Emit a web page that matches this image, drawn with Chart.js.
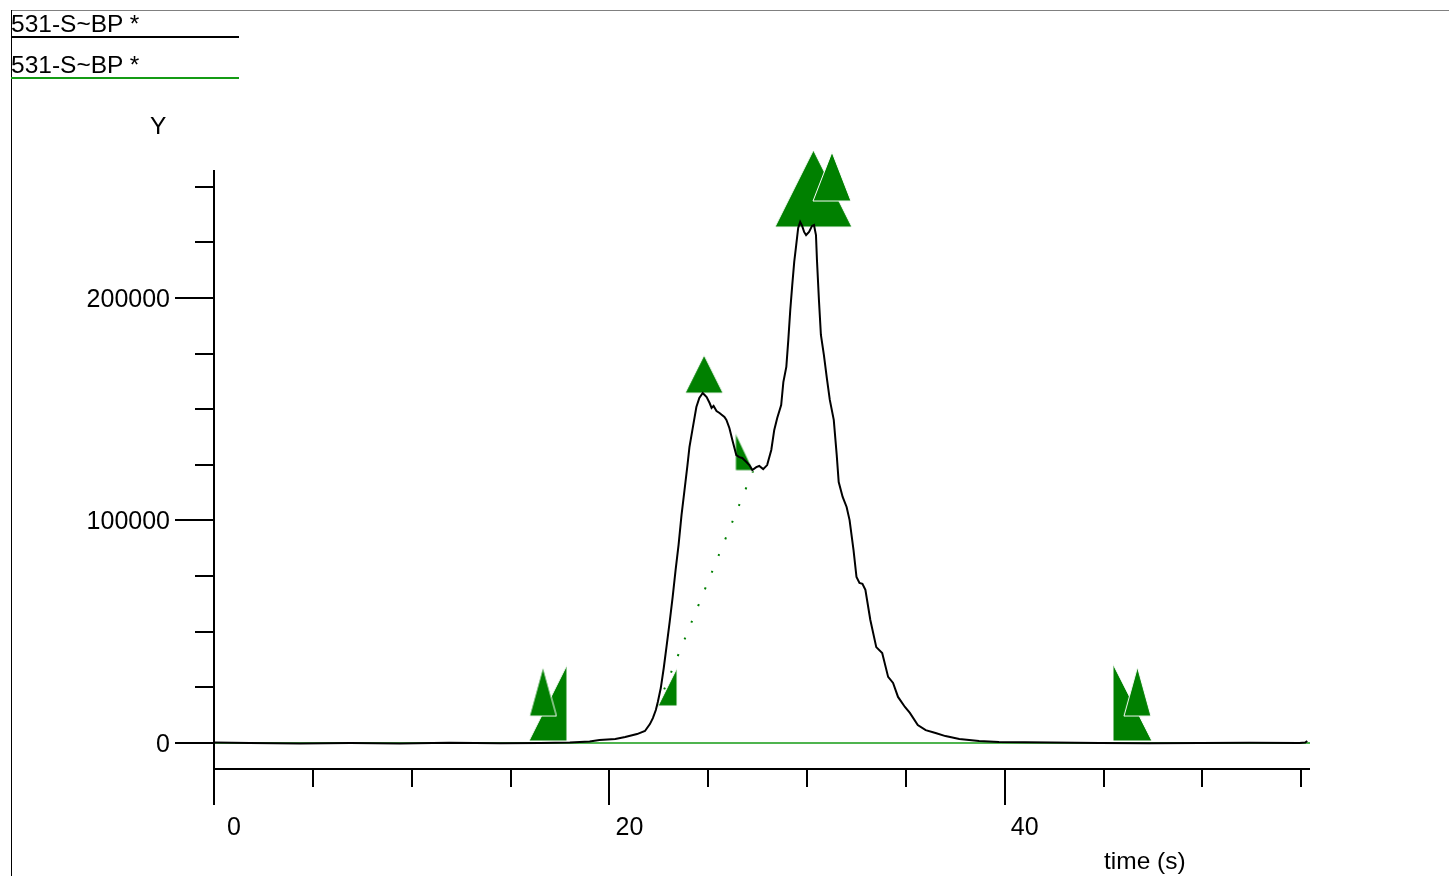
<!DOCTYPE html>
<html>
<head>
<meta charset="utf-8">
<script src="https://cdn.jsdelivr.net/npm/chart.js@4.4.1/dist/chart.umd.min.js"></script>
<style>
  html, body { margin: 0; padding: 0; background: #fff; }
  #wrap { position: relative; width: 1449px; height: 876px; overflow: hidden; font-family: "Liberation Sans", Arial, sans-serif; }
  #c { position: absolute; left: 0; top: 0; }
  .txt { position: absolute; font-size: 24.5px; line-height: 28px; color: #000; white-space: nowrap; }
  .ln { position: absolute; height: 0; }
</style>
</head>
<body>
<div id="wrap">
  <canvas id="c" width="1449" height="876"></canvas>
  <div class="ln" style="left:11px; top:10px; width:1438px; border-top:1px solid #808080;"></div>
  <div class="ln" style="left:11px; top:10px; width:0; height:866px; border-left:1px solid #000;"></div>
  <div class="txt" style="left:11px; top:10px;">531-S~BP *</div>
  <div class="ln" style="left:11px; top:36px; width:228px; border-top:2px solid #000;"></div>
  <div class="txt" style="left:11px; top:51px;">531-S~BP *</div>
  <div class="ln" style="left:11px; top:77px; width:228px; border-top:2px solid rgb(20,155,20);"></div>
  <div class="txt" style="left:150px; top:112px;">Y</div>
  <div class="txt" style="left:1104px; top:847px;">time (s)</div>
</div>
<script>
// ---------- data ----------
const times = [0, 1.8, 4.35, 6.9, 9.4, 11.9, 14.5, 16.5, 18.0, 19.0, 19.5, 20.3, 20.8, 21.4, 21.8,
  22.05, 22.2, 22.35, 22.45, 22.6, 22.75, 22.9, 23.05, 23.2, 23.35, 23.5, 23.65, 23.8, 23.95,
  24.05, 24.2, 24.4, 24.55, 24.72, 24.82, 24.92, 25.07, 25.17, 25.27, 25.42, 25.57, 25.82, 25.92,
  26.07, 26.22, 26.42, 26.57, 26.72, 26.93, 27.08, 27.23, 27.43, 27.58, 27.78, 27.98, 28.19, 28.34,
  28.49, 28.69, 28.8, 28.95, 29.05, 29.15, 29.25, 29.35, 29.45, 29.55, 29.65, 29.75, 29.85, 29.95,
  30.1, 30.25, 30.35, 30.45, 30.5, 30.6, 30.7, 30.85, 31.0, 31.15, 31.35, 31.5, 31.6, 31.8, 32.0,
  32.15, 32.35, 32.5, 32.65, 32.8, 32.95, 33.2, 33.5, 33.8, 34.1, 34.35, 34.6, 34.95, 35.2, 35.6,
  36.0, 36.5, 37.0, 37.7, 38.7, 39.7, 42.3, 44.8, 47.3, 49.9, 52.4, 54.9, 55.2, 55.3];
const signal = [200, 0, -200, 0, -200, 100, -100, 0, 200, 700, 1300, 1800, 2700, 4000, 5400,
  8500, 11200, 14800, 18400, 24700, 33700, 44000, 54400, 65600, 77800, 89000, 102500, 113700, 124900,
  133000, 140700, 151000, 155100, 157300, 156400, 155500, 152800, 150600, 151500, 149200, 148300, 146500, 145200,
  141600, 136200, 129400, 128500, 128100, 126300, 124900, 122700, 124000, 124500, 123100, 124900, 131700, 140700,
  146100, 151900, 162200, 169000, 181100, 194600, 205800, 216200, 223800, 231500, 234200, 232400, 229700, 228300,
  229700, 232400, 232800, 228300, 217100, 199100, 183400, 174400, 164000, 154200, 145200, 129400, 117300, 110600, 106100,
  100200, 86700, 74600, 71900, 71500, 68800, 55300, 43100, 40400, 29700, 27000, 20700, 16200, 13500, 8100,
  5800, 4500, 3100, 1800, 900, 400, 200, 0, -100, 0, 100, 0, 200, 900];

const baselineX = [0, 55.44];
const baselineY = [0, 0];
const dottedX = [22.43, 27.37];
const dottedY = [16600, 124500];

// peak-top markers (upward triangles)
const peakMarkX = [16.64, 24.79, 30.32, 31.26, 46.71];
const peakMarkY = [23100, 165800, 249200, 254600, 23100];
// start / end markers (half triangles)
const edgeMarkX = [16.89, 22.94, 26.83, 46.46];
const edgeMarkY = [18000, 25200, 131000, 18200];

const xRange = [0, 55.44];
const yRange = [-11690, 257530];
const xTicks = [0, 5, 10, 15, 20, 25, 30, 35, 40, 45, 50, 55];
const xTickLabels = ['0', '20', '40'];
const yTicks = [0, 25000, 50000, 75000, 100000, 125000, 150000, 175000, 200000, 225000, 250000];
const yTickLabels = ['0', '100000', '200000'];

// ---------- marker styles (sizes in px, kept separate from data) ----------
const peakShapes = [[27, 49], [38, 38], [77, 77], [38, 49], [27, 49]];
const edgeShapes = [['start', 38, 76], ['start', 19, 38], ['end', 18, 38], ['end', 39, 77]];
const markFill = '#008000';

function makeTri(kind, w, h) {
  const c = document.createElement('canvas');
  c.width = w + 2; c.height = h + 2;
  const g = c.getContext('2d');
  g.beginPath();
  if (kind === 'up') { g.moveTo(1 + w / 2, 1); g.lineTo(1 + w, 1 + h); g.lineTo(1, 1 + h); }
  else if (kind === 'start') { g.moveTo(1 + w, 1); g.lineTo(1 + w, 1 + h); g.lineTo(1, 1 + h); }
  else { g.moveTo(1, 1); g.lineTo(1, 1 + h); g.lineTo(1 + w, 1 + h); }
  g.closePath();
  g.fillStyle = markFill; g.fill();
  g.strokeStyle = '#ffffff'; g.lineWidth = 1; g.stroke();
  return c;
}
const peakImgs = peakShapes.map(s => makeTri('up', s[0], s[1]));
const edgeImgs = edgeShapes.map(s => makeTri(s[0], s[1], s[2]));

const zip = (xs, ys) => xs.map((x, i) => ({ x: x, y: ys[i] }));

// ---------- axes drawn through the chart's scales ----------
const axesPlugin = {
  id: 'igorAxes',
  afterDraw(chart) {
    const ctx = chart.ctx, a = chart.chartArea;
    const xs = chart.scales.x, ys = chart.scales.y;
    const L = Math.round(a.left), B = Math.round(a.bottom), T = Math.round(a.top), R = Math.round(a.right);
    ctx.save();
    ctx.strokeStyle = '#000'; ctx.lineWidth = 2; ctx.lineCap = 'butt';
    ctx.beginPath();
    ctx.moveTo(L, B); ctx.lineTo(R, B);
    ctx.moveTo(L, T); ctx.lineTo(L, B);
    xTicks.forEach(t => {
      const px = Math.round(xs.getPixelForValue(t));
      const len = (t % 20 === 0) ? 36 : 18;
      ctx.moveTo(px, B); ctx.lineTo(px, B + len);
    });
    yTicks.forEach(v => {
      const py = Math.round(ys.getPixelForValue(v));
      const len = (v % 100000 === 0) ? 39 : 19;
      ctx.moveTo(L - len, py); ctx.lineTo(L, py);
    });
    ctx.stroke();
    ctx.fillStyle = '#000';
    ctx.font = '25px "Liberation Sans", Arial, sans-serif';
    ctx.textBaseline = 'alphabetic';
    ctx.textAlign = 'center';
    xTickLabels.forEach(lbl => {
      const px = xs.getPixelForValue(Number(lbl));
      ctx.fillText(lbl, px + 20, B + 66);
    });
    ctx.textAlign = 'right';
    yTickLabels.forEach(lbl => {
      const py = ys.getPixelForValue(Number(lbl));
      ctx.fillText(lbl, L - 44, py + 9);
    });
    ctx.restore();
  }
};

new Chart(document.getElementById('c'), {
  type: 'scatter',
  data: {
    datasets: [
      { label: '531-S~BP *', data: zip(times, signal), showLine: true, borderColor: '#000', borderWidth: 2,
        pointRadius: 0, tension: 0, order: 0 },
      { label: 'peaks', data: zip(peakMarkX, peakMarkY), showLine: false, pointStyle: peakImgs,
        pointRadius: 10, clip: false, order: 1 },
      { label: 'edges', data: zip(edgeMarkX, edgeMarkY), showLine: false, pointStyle: edgeImgs,
        pointRadius: 10, clip: false, order: 2 },
      { label: 'baseline seg', data: zip(dottedX, dottedY), showLine: true, borderColor: markFill, borderWidth: 2,
        borderDash: [2, 16], pointRadius: 0, order: 3 },
      { label: '531-S~BP *', data: zip(baselineX, baselineY), showLine: true, borderColor: 'rgb(20,155,20)', borderWidth: 1.5,
        pointRadius: 0, order: 4 }
    ]
  },
  options: {
    responsive: false,
    devicePixelRatio: 1,
    animation: false,
    layout: { padding: { left: 214, right: 139, top: 170, bottom: 107 } },
    scales: {
      x: { type: 'linear', min: xRange[0], max: xRange[1], display: false },
      y: { type: 'linear', min: yRange[0], max: yRange[1], display: false }
    },
    plugins: { legend: { display: false }, tooltip: { enabled: false } }
  },
  plugins: [axesPlugin]
});
</script>
</body>
</html>
